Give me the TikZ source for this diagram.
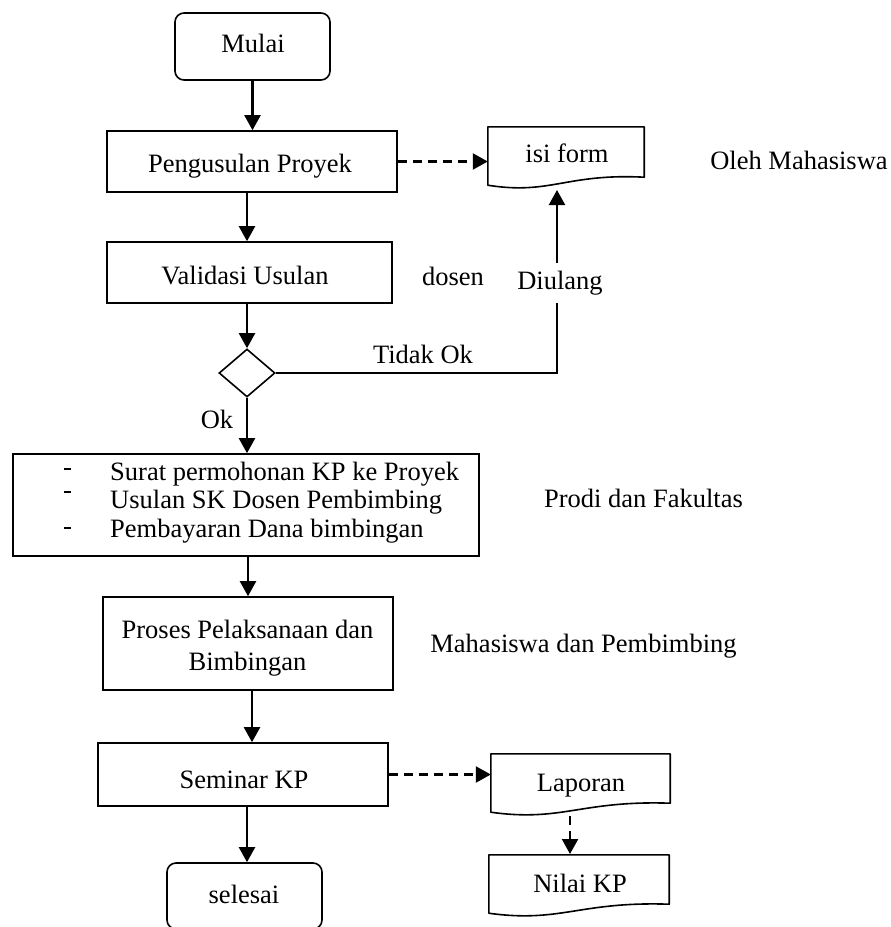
\documentclass[tikz,border=0pt]{standalone}
\usepackage{fontspec}
\setmainfont{Liberation Serif}
\usetikzlibrary{arrows.meta,calc,shapes.geometric}
\newcommand\docoutline[2]{%
  \draw[docline] (#1.south west) -- (#1.north west) -- (#1.north east) -- ($(#1.south east)+(0,-#2)$)
    .. controls ($(#1.south east)!0.5!(#1.south west)+(0,-12)$) and ($(#1.south west)!0.4!(#1.south east)+(0,10)$) .. (#1.south west) -- cycle;}
\begin{document}
\begin{tikzpicture}[x=1pt,y=-1pt,
  txt/.style={font=\fontsize{26.5}{32}\selectfont, inner sep=0pt, anchor=base},
  bulletmark/.style={fill=black, inner sep=0pt, minimum width=7pt, minimum height=2.6pt},
  boxshape/.style={draw, line width=1.6pt, inner sep=0pt, minimum width=#1},
  rbox/.style={boxshape=#1, rounded corners=9pt},
  docnode/.style={inner sep=0pt, minimum width=#1},
  docline/.style={line width=1.6pt, line join=round},
  dec/.style={draw, diamond, line width=1.6pt, inner sep=0pt, minimum width=56pt, minimum height=48pt, aspect=1.17},
  conn/.style={line width=2.2pt},
  arr/.style={line width=2.2pt, -{Triangle[length=15pt,width=16pt]}},
  darr/.style={arr, dash pattern=on 9pt off 6pt},
]
\useasboundingbox (0,0) rectangle (891,927);
\clip (0,0) rectangle (891,927);

% boxes
\node[rbox=155pt, minimum height=67pt] (start) at (252.5,46.5) {};
\node[boxshape=290pt, minimum height=61pt] (peng) at (252,161.5) {};
\node[docnode=156pt, minimum height=58pt] (isi) at (566,156) {};
\docoutline{isi}{8}
\node[boxshape=285pt, minimum height=61pt] (val) at (249.5,272.5) {};
\node[dec] (dia) at (247,373) {};
\node[boxshape=466pt, minimum height=102pt] (bul) at (246,505) {};
\node[boxshape=290pt, minimum height=93pt] (pros) at (248,643.5) {};
\node[boxshape=290pt, minimum height=63pt] (sem) at (243,774.5) {};
\node[rbox=155pt, minimum height=66pt] (sel) at (244.5,896) {};
\node[docnode=179pt, minimum height=58pt] (lap) at (580.5,783) {};
\docoutline{lap}{9}
\node[docnode=180pt, minimum height=58pt] (nil) at (579,884) {};
\docoutline{nil}{9}

% bullet marks
\node[bulletmark] (d1) at (67.5,469) {};
\node[bulletmark] (d2) at (67.5,492) {};
\node[bulletmark] (d3) at (67.5,528) {};

% texts
\node[txt] (tstart) at (253,52) {Mulai};
\node[txt] (tpeng) at (250,172) {Pengusulan Proyek};
\node[txt] (tisi) at (567,162) {isi form};
\node[txt] (toleh) at (799,169) {Oleh Mahasiswa};
\node[txt] (tval) at (245,284) {Validasi Usulan};
\node[txt] (tdosen) at (453,285) {dosen};
\node[txt, text height=18pt, text depth=6pt, inner ysep=8pt] (tdul) at (560,289) {Diulang};
\node[txt] (ttidak) at (423,363) {Tidak Ok};
\node[txt] (tok) at (217,428) {Ok};
\node[txt, anchor=base west] (tb1) at (110,480) {Surat permohonan KP ke Proyek};
\node[txt, anchor=base west] (tb2) at (110,508) {Usulan SK Dosen Pembimbing};
\node[txt, anchor=base west] (tb3) at (110,537) {Pembayaran Dana bimbingan};
\node[txt] (tprodi) at (643.5,507) {Prodi dan Fakultas};
\node[txt] (tpros1) at (247.5,638) {Proses Pelaksanaan dan};
\node[txt] (tpros2) at (247.5,670) {Bimbingan};
\node[txt] (tmhs) at (583.5,652) {Mahasiswa dan Pembimbing};
\node[txt] (tsem) at (244,788) {Seminar KP};
\node[txt] (tlap) at (581,791) {Laporan};
\node[txt] (tnil) at (580,892) {Nilai KP};
\node[txt] (tsel) at (244,903) {selesai};

% connectors
\coordinate (back) at (557,190);
\coordinate (lapout) at (570,816);
\coordinate (nilin) at (570,854);
\draw[arr] (start.south -| start) -- (start |- peng.north);
\draw[darr] (peng.east) -- (peng.east -| isi.west);
\draw[arr] (peng.south -| dia) -- (val.north -| dia);
\draw[arr] (val.south -| dia) -- (dia.north);
\draw[conn] (dia.east) -| (tdul.south -| back);
\draw[arr] (tdul.north -| back) -- (back);
\draw[arr] (dia.south) -- (dia |- bul.north);
\draw[arr] (bul.south -| pros) -- (pros.north);
\draw[arr] ([xshift=4pt]pros.south) -- ([xshift=4pt]pros.south |- sem.north);
\draw[arr] ([xshift=4pt]sem.south) -- ([xshift=4pt]sem.south |- sel.north);
\draw[darr] (sem.east) -- (sem.east -| lap.west);
\draw[darr] (lapout) -- (nilin);
\end{tikzpicture}
\end{document}
